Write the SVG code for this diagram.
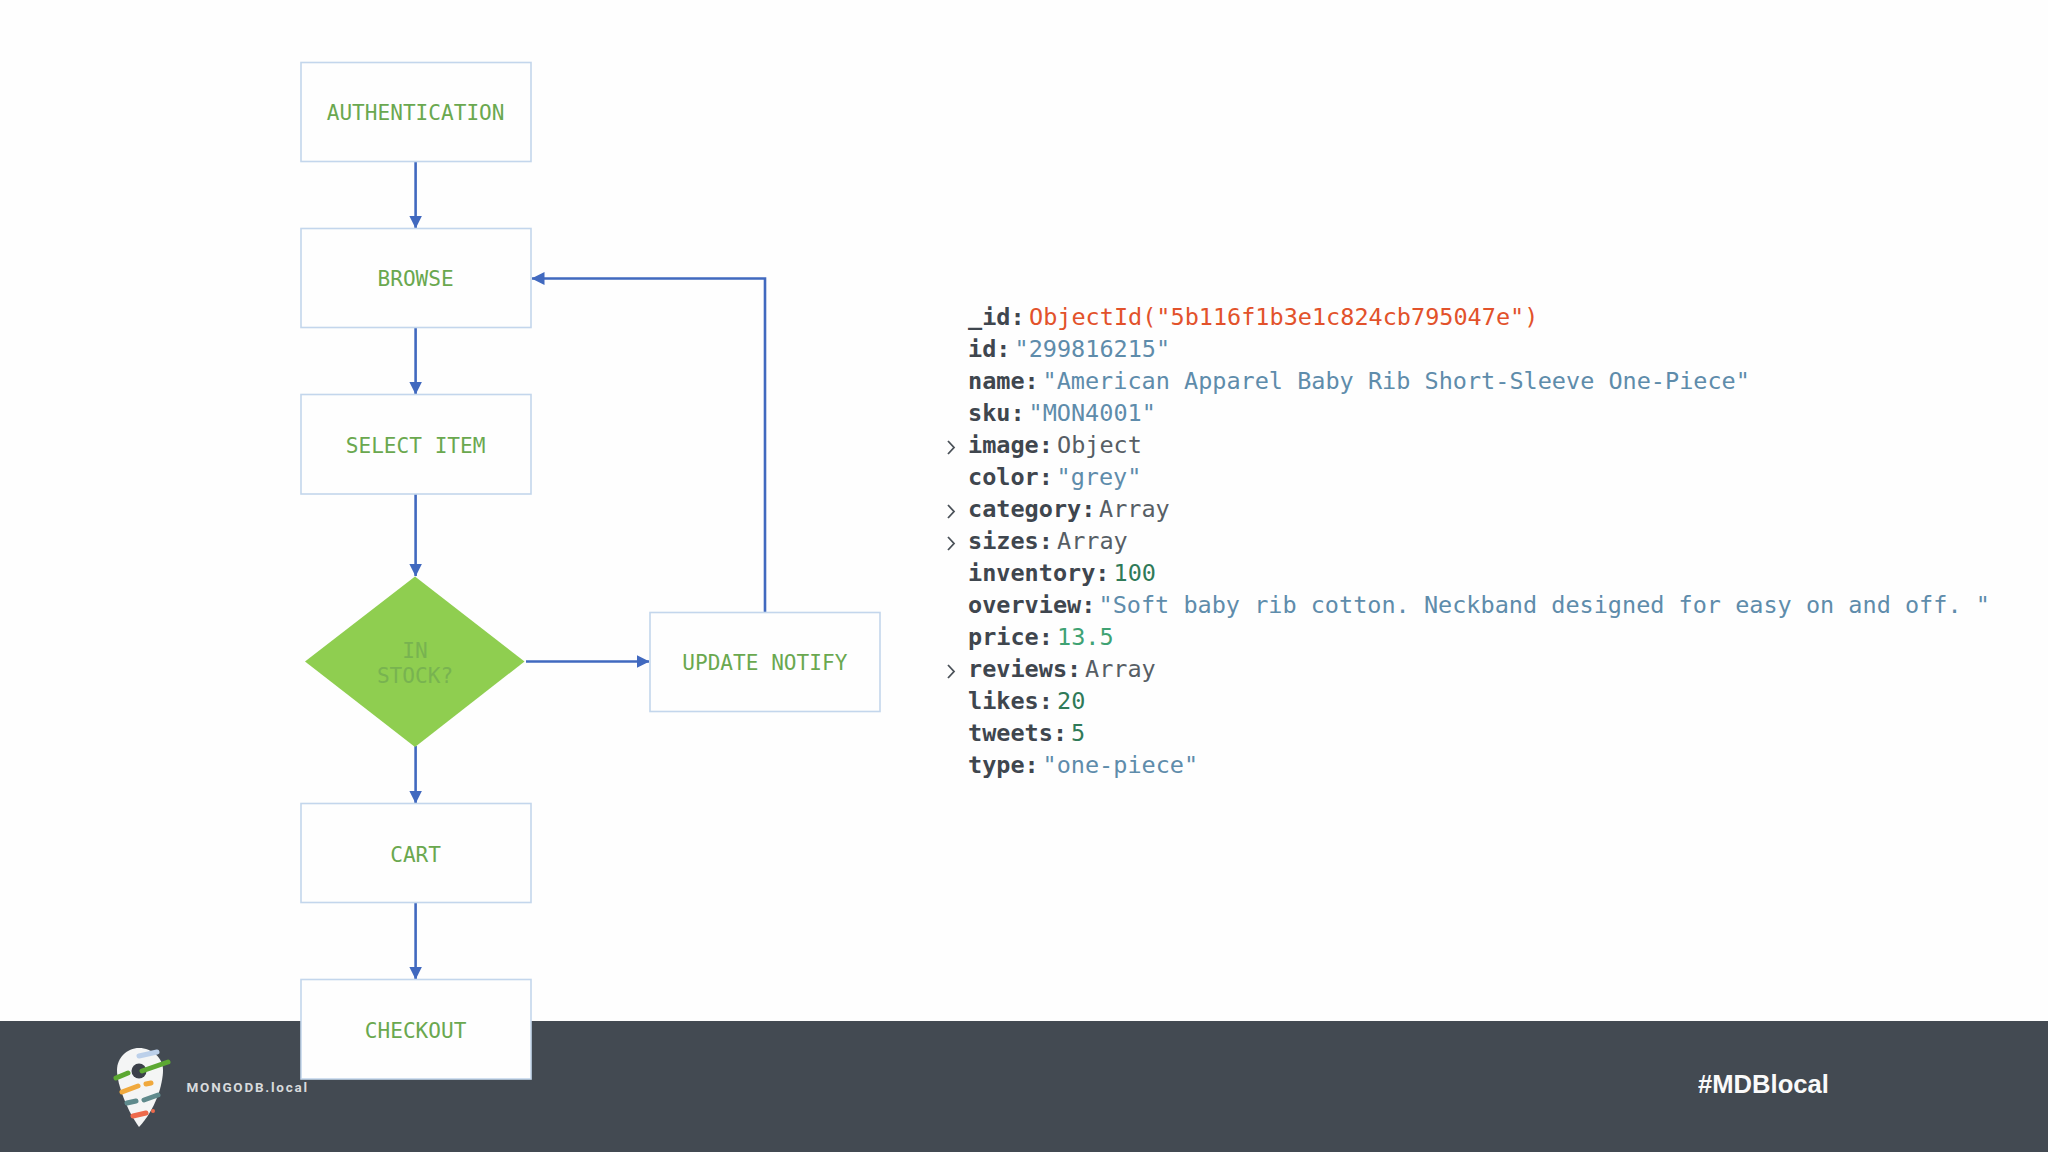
<svg xmlns="http://www.w3.org/2000/svg" width="2048" height="1152" viewBox="0 0 2048 1152">
<defs>
<style>
.box{fill:#fefefe;stroke:#c3d6ec;stroke-width:1.6}
.lbl{font:21.1px "DejaVu Sans Mono",monospace;fill:#6aa84f;text-anchor:middle}
.dl{fill:#78b350}
.con{fill:none;stroke:#4169bf;stroke-width:2.6}
.k{font:bold 23.5px "DejaVu Sans Mono",monospace;fill:#3f464e}
.s{font:23.5px "DejaVu Sans Mono",monospace;fill:#5e8cab}
.o{font:23.5px "DejaVu Sans Mono",monospace;fill:#e2522b}
.t{font:23.5px "DejaVu Sans Mono",monospace;fill:#575e65}
.n{font:23.5px "DejaVu Sans Mono",monospace;fill:#2f7a58}
.f{font:23.5px "DejaVu Sans Mono",monospace;fill:#3fa273}
.chev{fill:none;stroke:#4a5158;stroke-width:1.8}
.bar{stroke-width:5;stroke-linecap:round;fill:none}
</style>
<marker id="arrow" markerUnits="userSpaceOnUse" markerWidth="13" markerHeight="13" refX="12.5" refY="6.5" orient="auto"><path d="M0 0L13 6.5L0 13Z" fill="#4169bf"/></marker>
<filter id="soft"><feGaussianBlur stdDeviation="0.7"/></filter>
</defs>
<rect width="2048" height="1152" fill="#fefefe"/>
<rect id="footer" y="1021" width="2048" height="131" fill="#434a52"/>
<g id="connectors">
<path class="con" marker-end="url(#arrow)" d="M415.6 162V228"/>
<path class="con" marker-end="url(#arrow)" d="M415.6 328V394"/>
<path class="con" marker-end="url(#arrow)" d="M415.6 494V576"/>
<path class="con" marker-end="url(#arrow)" d="M415.6 746V803"/>
<path class="con" marker-end="url(#arrow)" d="M415.6 903V979"/>
<path class="con" marker-end="url(#arrow)" d="M526 661.5H649"/>
<path class="con" marker-end="url(#arrow)" d="M765 612V278.5H532"/>
</g>
<g id="n-authentication"><rect class="box" x="301" y="62.5" width="230" height="99"/><text class="lbl" x="415.6" y="120">AUTHENTICATION</text></g>
<g id="n-browse"><rect class="box" x="301" y="228.5" width="230" height="99"/><text class="lbl" x="415.6" y="286.4">BROWSE</text></g>
<g id="n-select"><rect class="box" x="301" y="394.5" width="230" height="99.5"/><text class="lbl" x="415.6" y="452.7">SELECT ITEM</text></g>
<g id="n-stock"><path d="M415 576.5L524.5 661.5L415 747L305 661.5Z" fill="#8fce50"/><text class="lbl dl" x="415" y="657.6">IN</text><text class="lbl dl" x="415" y="682.6">STOCK?</text></g>
<g id="n-update"><rect class="box" x="650" y="612.5" width="230" height="99"/><text class="lbl" x="764.8" y="670">UPDATE NOTIFY</text></g>
<g id="n-cart"><rect class="box" x="301" y="803.5" width="230" height="99"/><text class="lbl" x="415.6" y="862">CART</text></g>
<g id="n-checkout"><rect class="box" x="301" y="979.5" width="230" height="99.5"/><text class="lbl" x="415.6" y="1038.2">CHECKOUT</text></g>
<g id="document">
<text class="k" x="968" y="325.3">_id:</text><text class="o" x="1029" y="325.3">ObjectId("5b116f1b3e1c824cb795047e")</text>
<text class="k" x="968" y="357.3">id:</text><text class="s" x="1014.5" y="357.3">"299816215"</text>
<text class="k" x="968" y="389.3">name:</text><text class="s" x="1042.5" y="389.3">"American Apparel Baby Rib Short-Sleeve One-Piece"</text>
<text class="k" x="968" y="421.3">sku:</text><text class="s" x="1028.5" y="421.3">"MON4001"</text>
<text class="k" x="968" y="453.3">image:</text><text class="t" x="1057" y="453.3">Object</text>
<text class="k" x="968" y="485.3">color:</text><text class="s" x="1056.5" y="485.3">"grey"</text>
<text class="k" x="968" y="517.3">category:</text><text class="t" x="1099" y="517.3">Array</text>
<text class="k" x="968" y="549.3">sizes:</text><text class="t" x="1057" y="549.3">Array</text>
<text class="k" x="968" y="581.3">inventory:</text><text class="n" x="1113.5" y="581.3">100</text>
<text class="k" x="968" y="613.3">overview:</text><text class="s" x="1098.5" y="613.3">"Soft baby rib cotton. Neckband designed for easy on and off. "</text>
<text class="k" x="968" y="645.3">price:</text><text class="f" x="1057" y="645.3">13.5</text>
<text class="k" x="968" y="677.3">reviews:</text><text class="t" x="1085" y="677.3">Array</text>
<text class="k" x="968" y="709.3">likes:</text><text class="n" x="1057" y="709.3">20</text>
<text class="k" x="968" y="741.3">tweets:</text><text class="n" x="1071" y="741.3">5</text>
<text class="k" x="968" y="773.3">type:</text><text class="s" x="1042.5" y="773.3">"one-piece"</text>
<path class="chev" d="M948 441L954 447.5L948 454"/>
<path class="chev" d="M948 505L954 511.5L948 518"/>
<path class="chev" d="M948 537L954 543.5L948 550"/>
<path class="chev" d="M948 665L954 671.5L948 678"/>
</g>
<g id="logo">
<g filter="url(#soft)">
<path d="M139 1048C152 1048 163 1058 163 1070C163 1085 155 1110 139 1127C128 1112 117 1085 117 1070C117 1058 127 1048 139 1048Z" fill="#f4f5f5"/>
<circle cx="139" cy="1071" r="7.5" fill="#3a4148"/>
<path class="bar" d="M116 1078L128 1073M142 1071L168 1062" stroke="#5ca832"/>
<path class="bar" stroke="#bcd0ea" d="M139 1056L157 1052"/>
<path class="bar" stroke="#f0a93c" d="M122 1092L138 1086M146 1084L151 1083"/>
<path class="bar" stroke="#5e8a8c" d="M127 1103L136 1101M144 1100L158 1095"/>
<path class="bar" stroke="#ee6a4c" d="M133 1116L146 1113"/>
<circle cx="153" cy="1111" r="2" fill="#ee6a4c"/>
</g>
<text x="186.5" y="1092" font-family="Roboto,'Noto Sans',sans-serif" font-weight="700" font-size="13.5" letter-spacing="1.75" fill="#d8dadc">MONGODB.local</text>
</g>
<text id="hashtag" x="1698" y="1092.5" font-family="'Liberation Sans',Arial,sans-serif" font-weight="700" font-size="25.6" fill="#fafafa">#MDBlocal</text>
</svg>
